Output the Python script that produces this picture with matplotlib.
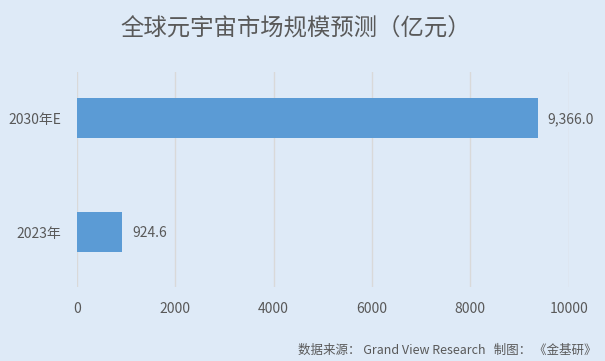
import matplotlib.pyplot as plt

plt.rcParams['font.family'] = ['Noto Sans CJK SC', 'DejaVu Sans']

categories = ["2023年", "2030年E"]
values = [924.6, 9366.0]
value_labels = ["924.6", "9,366.0"]
xticks = [0, 2000, 4000, 6000, 8000, 10000]

bg = "#DEEAF7"
bar_color = "#5B9BD5"
text_color = "#595959"

fig = plt.figure(figsize=(6.05, 3.61), dpi=100, facecolor=bg)
W, H = 605, 361
left, right, top, bottom = 76.8, 568.7, 72, 287
ax = fig.add_axes([left / W, (H - bottom) / H, (right - left) / W, (bottom - top) / H])
ax.set_facecolor(bg)

ypos = list(range(len(categories)))
ax.barh(ypos, values, height=0.35, color=bar_color, zorder=3)
for y, v, lab in zip(ypos, values, value_labels):
    ax.annotate(lab, (v, y), textcoords="offset points", xytext=(7, -1),
                ha="left", va="center", fontsize=10, color=text_color)

ax.set_xlim(0, 10000)
ax.set_ylim(-0.482, 1.404)
ax.set_xticks(xticks)
ax.set_xticklabels([str(t) for t in xticks])
ax.set_yticks(ypos)
ax.set_yticklabels(categories)
ax.tick_params(axis="both", length=0, labelsize=10, colors=text_color)
ax.tick_params(axis="y", pad=11)
ax.tick_params(axis="x", pad=11)
ax.grid(True, axis="x", color="#D9D9D9", linewidth=1, zorder=0)
for s in ax.spines.values():
    s.set_visible(False)

fig.text(296 / W, 1 - 29 / H, "全球元宇宙市场规模预测（亿元）", ha="center", va="center",
         fontsize=16.8, color=text_color)
fig.text(596 / W, 1 - 350 / H, "数据来源： Grand View Research   制图： 《金基研》",
         ha="right", va="center", fontsize=9, color=text_color)

fig.savefig("out.png", dpi=100, facecolor=bg)
